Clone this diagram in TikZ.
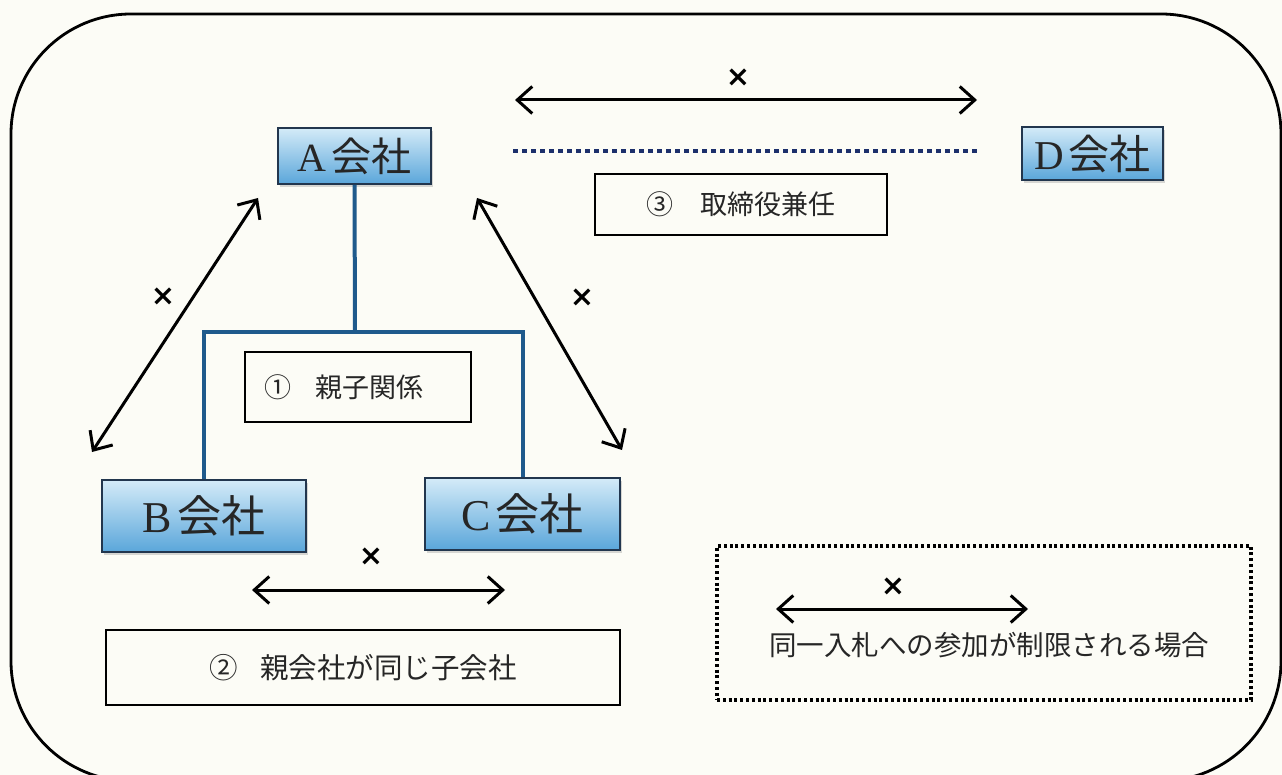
\documentclass[tikz,border=0pt]{standalone}
\usepackage{fontspec}
\setmainfont{Liberation Serif}
\newfontfamily\jp{Noto Sans CJK JP}
\newfontfamily\sym{DejaVu Sans}
\usetikzlibrary{arrows.meta,shadows}

\definecolor{bg}{HTML}{FCFCF6}
\definecolor{treeblue}{HTML}{1F5A8C}
\definecolor{dotblue}{HTML}{1C2F6B}
\definecolor{boxtop}{HTML}{D4EBF8}
\definecolor{boxbot}{HTML}{5AA6DA}
\definecolor{boxedge}{HTML}{22364E}
\definecolor{ink}{HTML}{262626}

\newcommand{\compname}[1]{#1\hspace{5pt}{\jp 会社}}

\tikzset{
  company/.style={draw=boxedge, line width=1.8pt, top color=boxtop, bottom color=boxbot,
    inner sep=0pt, text=ink,
    drop shadow={shadow xshift=2pt, shadow yshift=-3pt, opacity=0.3}},
  notebox/.style={draw=black, line width=1.5pt, inner sep=0pt, fill=bg, text=ink},
  tree/.style={draw=treeblue, line width=4pt, line join=miter},
  dotline/.style={draw=dotblue, line width=4.5pt, dash pattern=on 5pt off 4pt},
  legendbox/.style={draw=black, line width=3.5pt, dash pattern=on 3pt off 2.8pt},
  dbl/.style={line width=3pt, draw=black,
    {Straight Barb[length=15pt,width=27pt]}-{Straight Barb[length=15pt,width=27pt]}},
  cross/.style={font=\sym\bfseries\fontsize{29}{29}\selectfont, text=black, inner sep=0pt},
}

\begin{document}
\begin{tikzpicture}[x=1pt,y=-1pt]
\fill[bg] (0,0) rectangle (1282,775);
\useasboundingbox (0,0) rectangle (1282,775);
\begin{scope}
  \clip (0,0) rectangle (1282,775);
  \draw[line width=2.8pt, rounded corners=120pt] (11,14) rectangle (1281,781);
\end{scope}

% companies
\node[company, minimum width=153pt, minimum height=56pt,
      font=\fontsize{40}{40}\selectfont] (A) at (354.5,156) {\compname{A}};
\node[company, minimum width=204pt, minimum height=72pt,
      font=\fontsize{44}{44}\selectfont] (B) at (204,516) {\compname{B}};
\node[company, minimum width=195pt, minimum height=72pt,
      font=\fontsize{44}{44}\selectfont] (C) at (522.5,514) {\compname{C}};
\node[company, minimum width=141pt, minimum height=53pt,
      font=\fontsize{41}{41}\selectfont] (D) at (1092.5,153.5) {\compname{D}};

% tree
\coordinate (J) at (355,332);
\draw[tree] (A.south) -- (J);
\draw[tree] (J) -| (B.north);
\draw[tree] (J) -| (C.north);

% note boxes
\node[notebox, minimum width=226pt, minimum height=70pt,
      font=\jp\fontsize{27}{27}\selectfont] (n1) at (358,387)
      {①\hspace{0.9em}親子関係\hspace{28pt}\mbox{}};
\node[notebox, minimum width=514pt, minimum height=75pt,
      font=\jp\fontsize{28.5}{28.5}\selectfont] (n2) at (363,667.5)
      {②\hspace{0.8em}親会社が同じ子会社};
\node[notebox, minimum width=292pt, minimum height=61pt,
      font=\jp\fontsize{27}{27}\selectfont] (n3) at (741,204.5)
      {③\hspace{1em}取締役兼任};

% A - D
\coordinate (t1) at (515,100);
\coordinate (t2) at (977,100);
\draw[dbl] (t1) -- (t2);
\node[cross] (x1) at (738,78) {×};
\coordinate (d1) at (513,151);
\coordinate (d2) at (977,151);
\draw[dotline] (d1) -- (d2);

% A - B
\coordinate (l1) at (258,198);
\coordinate (l2) at (92,452);
\draw[dbl] (l1) -- (l2);
\node[cross] (x2) at (163,297) {×};

% A - C
\coordinate (r1) at (477,198);
\coordinate (r2) at (622,450);
\draw[dbl] (r1) -- (r2);
\node[cross] (x3) at (582,298) {×};

% B - C
\coordinate (b1) at (252,590);
\coordinate (b2) at (505,590);
\draw[dbl] (b1) -- (b2);
\node[cross] (x4) at (371,557) {×};

% legend
\node[legendbox, minimum width=534pt, minimum height=154pt, inner sep=0pt] (L) at (984,623) {};
\coordinate (g1) at (776,609);
\coordinate (g2) at (1028,609);
\draw[dbl] (g1) -- (g2);
\node[cross] (x5) at (893,587) {×};
\node[font=\jp\fontsize{27.5}{27.5}\selectfont, text=ink, inner sep=0pt] (lt) at (989,645)
  {同一入札への参加が制限される場合};
\end{tikzpicture}
\end{document}
